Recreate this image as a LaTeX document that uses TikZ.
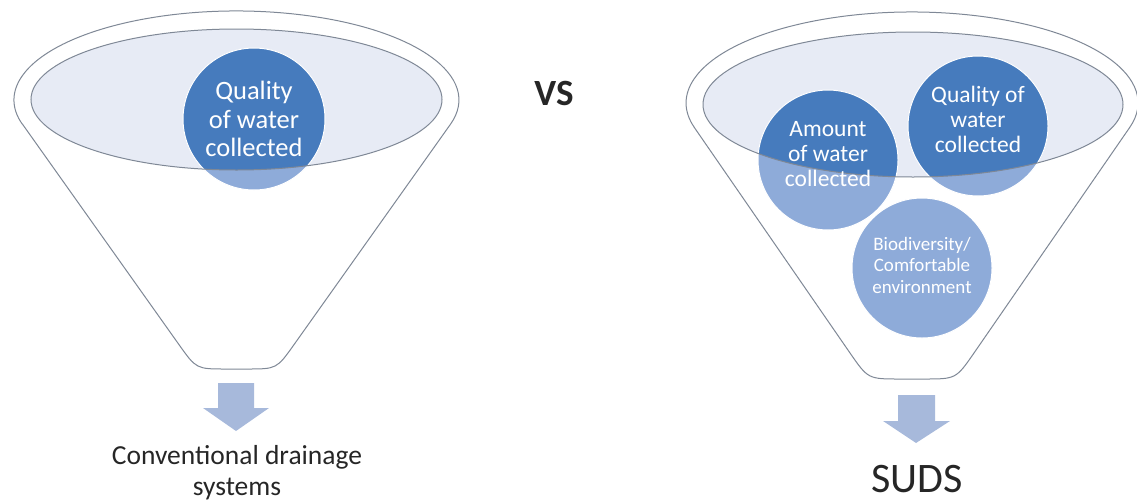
\documentclass[tikz,border=0pt]{standalone}
\usepackage{fontspec}
\setmainfont{Carlito}
\usepackage{xcolor}
\usepackage{tikz}

\definecolor{rimgray}{HTML}{7F8896}
\definecolor{rimfill}{HTML}{E7EBF5}
\definecolor{bubbledark}{HTML}{467BBD}
\definecolor{bubblelight}{HTML}{8EABD9}
\definecolor{arrowblue}{HTML}{A7B9DB}
\definecolor{labelgray}{HTML}{262626}

\tikzset{
  funnel/.style={draw=rimgray, line width=1pt, fill=white},
  rim/.style={draw=rimgray, line width=1pt},
  bubbleline/.style={draw=white, line width=1pt},
  bubbletext/.style={text=white, align=center, inner sep=0pt},
  blockarrow/.style={fill=arrowblue},
  caption/.style={text=labelgray, align=center, inner sep=0pt},
}

\begin{document}
\begin{tikzpicture}[x=1pt,y=-1pt]
\useasboundingbox (0,0) rectangle (1137,501);
%% left funnel
\draw[funnel] (22.5,124.2) -- (178.9,344.5) .. controls (196.3,369) .. (226.3,369) -- (246.7,369)
  .. controls (276.7,369) .. (294.1,344.5) -- (450.5,124.2)
  arc[start angle=15.8, end angle=-195.8, x radius=222.5, y radius=89] -- cycle;
\fill[rimfill] (236.5,99.5) ellipse[x radius=205.5, y radius=70.5];
\fill[bubblelight] (254,119) circle[radius=71];
\begin{scope}
\clip (236.5,99.5) ellipse[x radius=205.5, y radius=70.5];
\fill[bubbledark] (254,119) circle[radius=71];
\end{scope}
\draw[bubbleline] (254,119) circle[radius=71];
\draw[rim] (236.5,99.5) ellipse[x radius=205.5, y radius=70.5];
\node[bubbletext, font=\fontsize{26.5}{28.5}\selectfont] (qual1) at (254,119) {Quality\\of water\\collected};
%%
\fill[blockarrow] (218,383) -- (254,383) -- (254,408) -- (269,408) -- (236,431) -- (203,408) -- (218,408) -- cycle;
\node[caption, font=\fontsize{27.5}{31}\selectfont] (conv) at (237,473) {Conventional drainage\\systems};
%%
\node[text=labelgray, font=\fontsize{37}{40}\selectfont\bfseries] (vs) at (554,93) {VS};
%% right funnel
\draw[funnel] (694.2,127.3) -- (849.8,352.7) .. controls (868,379) .. (900,379) -- (924,379)
  .. controls (956,379) .. (974.2,352.7) -- (1129.8,127.3)
  arc[start angle=15.5, end angle=-195.5, x radius=226, y radius=91] -- cycle;
\fill[rimfill] (913,104.5) ellipse[x radius=210, y radius=72.5];
\foreach \cx/\cy in {828/160, 978/126, 922/268}
  \fill[bubblelight] (\cx,\cy) circle[radius=70];
\begin{scope}
\clip (913,104.5) ellipse[x radius=210, y radius=72.5];
\foreach \cx/\cy in {828/160, 978/126, 922/268}
  \fill[bubbledark] (\cx,\cy) circle[radius=70];
\end{scope}
\foreach \cx/\cy in {828/160, 978/126, 922/268}
  \draw[bubbleline] (\cx,\cy) circle[radius=70];
\draw[rim] (913,104.5) ellipse[x radius=210, y radius=72.5];
\node[bubbletext, font=\fontsize{23.5}{25}\selectfont] (amount) at (828,154) {Amount\\of water\\collected};
\node[bubbletext, font=\fontsize{23.5}{25}\selectfont] (qual2) at (978,119) {Quality of\\water\\collected};
\node[bubbletext, font=\fontsize{19}{21.5}\selectfont] (bio) at (922,265) {Biodiversity/\\Comfortable\\environment};
%%
\fill[blockarrow] (898,395) -- (935,395) -- (935,421) -- (950,421) -- (916,443) -- (883,421) -- (898,421) -- cycle;
\node[caption, font=\fontsize{42}{44}\selectfont, anchor=base] (suds) at (917,492) {SUDS};
\end{tikzpicture}
\end{document}
